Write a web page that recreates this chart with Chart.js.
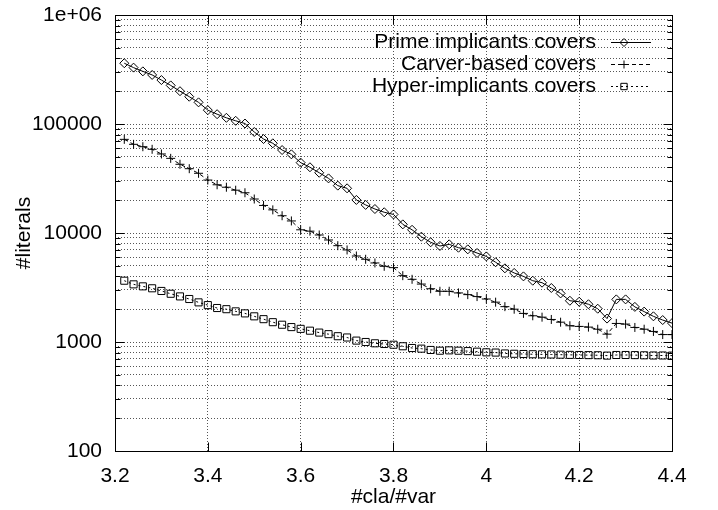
<!DOCTYPE html>
<html lang="en">
  <head>
    <meta charset="UTF-8" />
    <title>#literals vs #cla/#var</title>
    <script src="https://cdn.jsdelivr.net/npm/chart.js"></script>
    <style>
      html, body { margin: 0; padding: 0; background: #fff; }
    </style>
  </head>
  <body>
    <canvas id="litChart" width="718" height="510"></canvas>
    <script>
      // x values (#cla/#var)
      const claVar = [
        3.22, 3.24, 3.26, 3.28, 3.3, 3.32, 3.34, 3.36, 3.38, 3.4,
        3.42, 3.44, 3.46, 3.48, 3.5, 3.52, 3.54, 3.56, 3.58, 3.6,
        3.62, 3.64, 3.66, 3.68, 3.7, 3.72, 3.74, 3.76, 3.78, 3.8,
        3.82, 3.84, 3.86, 3.88, 3.9, 3.92, 3.94, 3.96, 3.98, 4.0,
        4.02, 4.04, 4.06, 4.08, 4.1, 4.12, 4.14, 4.16, 4.18, 4.2,
        4.22, 4.24, 4.26, 4.28, 4.3, 4.32, 4.34, 4.36, 4.38, 4.4,
      ]

      const primeCovers = [
        361000, 329000, 304000, 282000, 253000, 226000, 200000, 178000, 158000, 134000,
        123000, 114000, 107000, 101000, 84500, 72800, 66500, 57700, 52700, 44200,
        40100, 35700, 31700, 27200, 25700, 20100, 18100, 16600, 15500, 14800,
        12000, 10700, 9250, 8220, 7600, 7870, 7330, 7080, 6550, 6100,
        5390, 4740, 4300, 4000, 3650, 3500, 3130, 2790, 2390, 2340,
        2220, 2020, 1640, 2460, 2460, 2100, 1900, 1720, 1590, 1490,
      ]

      const carverCovers = [
        72300, 65100, 61900, 58600, 53100, 48400, 42700, 38900, 35300, 30600,
        27700, 26300, 24700, 23400, 20500, 17900, 16300, 14400, 12900, 10700,
        10400, 9590, 8630, 7650, 6990, 6150, 5740, 5310, 4950, 4810,
        4060, 3760, 3400, 3080, 2920, 2920, 2820, 2720, 2610, 2480,
        2320, 2110, 2000, 1830, 1740, 1690, 1610, 1520, 1410, 1390,
        1370, 1310, 1180, 1480, 1460, 1360, 1310, 1250, 1170, 1170,
      ]

      const hyperCovers = [
        3650, 3380, 3240, 3110, 2940, 2770, 2620, 2480, 2310, 2180,
        2050, 2000, 1910, 1830, 1720, 1620, 1520, 1440, 1370, 1320,
        1270, 1220, 1180, 1130, 1100, 1030, 1000, 973, 959, 944,
        914, 881, 869, 845, 832, 838, 832, 825, 815, 804,
        800, 785, 780, 776, 772, 770, 768, 765, 762, 760,
        758, 756, 750, 760, 760, 758, 755, 752, 752, 750,
      ]

      const seriesNames = [
        "Prime implicants covers",
        "Carver-based covers",
        "Hyper-implicants covers",
      ]

      const xTicks = [3.2, 3.4, 3.6, 3.8, 4, 4.2, 4.4]
      const yTicks = [100, 1000, 10000, 100000, 1000000]
      const yTickLabels = ["100", "1000", "10000", "100000", "1e+06"]

      const FONT = "'Liberation Sans', Arial, Helvetica, sans-serif"
      Chart.defaults.font.family = FONT
      Chart.defaults.font.size = 21
      Chart.defaults.color = "#000"

      function points(ys) {
        return claVar.map((x, i) => ({ x, y: ys[i] }))
      }

      // log minor ticks 1..9 x decade
      function logTicks() {
        const out = []
        for (let i = 0; i < yTicks.length - 1; i++) {
          for (let k = 1; k < 10; k++) out.push({ value: k * yTicks[i] })
        }
        out.push({ value: yTicks[yTicks.length - 1] })
        return out
      }

      function line(ctx, x1, y1, x2, y2) {
        ctx.beginPath()
        ctx.moveTo(x1, y1)
        ctx.lineTo(x2, y2)
        ctx.stroke()
      }

      // gnuplot style frame, inward ticks and key
      const gnuFrame = {
        id: "gnuFrame",
        afterDraw(chart) {
          const ctx = chart.ctx
          const a = chart.chartArea
          const L = Math.round(a.left) + 0.5
          const R = Math.round(a.right) + 0.5
          const T = Math.round(a.top) + 0.5
          const B = Math.round(a.bottom) + 0.5
          ctx.save()
          ctx.strokeStyle = "#000"
          ctx.lineWidth = 1
          ctx.setLineDash([])
          ctx.strokeRect(L, T, R - L, B - T)

          const ys = chart.scales.y
          ys.ticks.forEach((t) => {
            const py = Math.round(ys.getPixelForValue(t.value)) + 0.5
            const len = yTicks.includes(t.value) ? 9 : 5
            line(ctx, L, py, L + len, py)
            line(ctx, R, py, R - len, py)
          })
          const xs = chart.scales.x
          xs.ticks.forEach((t) => {
            const px = Math.round(xs.getPixelForValue(t.value)) + 0.5
            line(ctx, px, B, px, B - 9)
            line(ctx, px, T, px, T + 9)
          })

          // key
          ctx.font = "21px " + FONT
          ctx.textAlign = "right"
          ctx.textBaseline = "middle"
          chart.data.datasets.forEach((ds, i) => {
            const y = Math.round(a.top + 27 + i * 22) + 0.5
            ctx.fillStyle = "#000"
            ctx.fillText(ds.label, a.right - 76, y)
            ctx.setLineDash(ds.borderDash || [])
            line(ctx, a.right - 61, y, a.right - 21, y)
            ctx.setLineDash([])
            ctx.fillStyle = "rgba(0,0,0,0)"
            Chart.helpers.drawPoint(
              ctx,
              { pointStyle: ds.pointStyle, radius: ds.pointRadius - 0.5, borderWidth: 1, rotation: 0 },
              a.right - 48,
              y
            )
          })
          ctx.restore()
        },
      }

      const common = {
        borderColor: "#000",
        borderWidth: 1,
        pointBorderColor: "#000",
        pointBackgroundColor: "rgba(0,0,0,0)",
        pointBorderWidth: 1,
        tension: 0,
        fill: false,
      }

      new Chart(document.getElementById("litChart"), {
        type: "line",
        data: {
          datasets: [
            {
              ...common,
              label: seriesNames[0],
              data: points(primeCovers),
              pointStyle: "rectRot",
              pointRadius: 4.5,
              borderDash: [],
            },
            {
              ...common,
              label: seriesNames[1],
              data: points(carverCovers),
              pointStyle: "cross",
              pointRadius: 4.5,
              borderDash: [4, 3],
            },
            {
              ...common,
              label: seriesNames[2],
              data: points(hyperCovers),
              pointStyle: "rect",
              pointRadius: 5,
              borderDash: [2, 3],
            },
          ],
        },
        options: {
          responsive: false,
          animation: false,
          layout: { padding: { top: 15, right: 46, bottom: 0, left: 0 } },
          plugins: {
            legend: { display: false },
            tooltip: { enabled: false },
          },
          scales: {
            x: {
              type: "linear",
              min: 3.2,
              max: 4.4,
              afterBuildTicks: (s) => {
                s.ticks = xTicks.map((v) => ({ value: v }))
              },
              afterFit: (s) => {
                s.height = 59
                s.paddingLeft = 0
                s.paddingRight = 0
              },
              ticks: {
                autoSkip: false,
                maxRotation: 0,
                padding: 13,
                callback: (v) => String(v),
              },
              grid: { color: "#555", lineWidth: 1, drawTicks: false },
              border: { display: false, dash: [1, 2] },
              title: {
                display: true,
                text: "#cla/#var",
                font: { size: 21 },
                padding: { top: 0, bottom: 0 },
              },
            },
            y: {
              type: "logarithmic",
              min: 100,
              max: 1000000,
              afterBuildTicks: (s) => {
                s.ticks = logTicks()
              },
              afterFit: (s) => {
                s.width = 115
                s.paddingTop = 0
                s.paddingBottom = 0
              },
              ticks: {
                autoSkip: false,
                padding: 13,
                callback: (v) => {
                  const i = yTicks.indexOf(v)
                  return i >= 0 ? yTickLabels[i] : ""
                },
              },
              grid: { color: "#555", lineWidth: 1, drawTicks: false },
              border: { display: false, dash: [1, 2] },
              title: {
                display: true,
                text: "#literals",
                font: { size: 21 },
                padding: { top: 12, bottom: 0 },
              },
            },
          },
        },
        plugins: [gnuFrame],
      })
    </script>
  </body>
</html>
